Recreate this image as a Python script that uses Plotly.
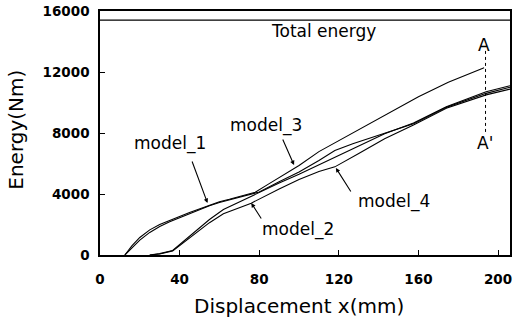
import plotly.graph_objects as go

# ---- data ----
total_energy = 15400
x_total = [0, 206]

x_model1 = [12.5, 16, 20, 25, 30, 35, 40, 45, 50, 55, 60, 65, 70, 75, 80, 90, 100, 110, 118, 127, 135, 143, 157.5, 174, 194, 206]
y_model1 = [0, 470, 980, 1480, 1870, 2180, 2450, 2720, 2980, 3230, 3440, 3610, 3790, 3960, 4130, 4800, 5450, 6200, 6850, 7300, 7650, 7980, 8600, 9680, 10600, 11000]

x_model2 = [25, 30, 36.5, 42, 47, 55, 62, 70, 76, 90, 100, 110, 118, 130, 143, 157.5, 174, 194, 206]
y_model2 = [0, 70, 270, 820, 1330, 2120, 2700, 3110, 3400, 4330, 4950, 5480, 5780, 6650, 7620, 8520, 9620, 10500, 10880]

x_model3 = [12.5, 16, 20, 25, 30, 35, 40, 45, 50, 55, 60, 65, 70, 75, 78, 84, 90, 100, 110, 120, 135, 148, 160, 175, 193]
y_model3 = [0, 600, 1150, 1650, 2000, 2280, 2530, 2780, 3020, 3300, 3490, 3650, 3820, 3990, 4120, 4600, 5080, 5870, 6780, 7500, 8600, 9500, 10380, 11330, 12280]

x_model4 = [25, 30, 36.5, 42, 47, 55, 62, 70, 78, 90, 100, 110, 118, 130, 143, 157.5, 174, 194, 206]
y_model4 = [0, 90, 300, 900, 1470, 2330, 2980, 3480, 4000, 4720, 5300, 5900, 6380, 7150, 7950, 8650, 9720, 10700, 11100]

x_section = [193.7, 193.7]
y_section = [8070, 13450]

x_ticks = [0, 40, 80, 120, 160, 200]
x_tick_text = ["0", "40", "80", "120", "160", "200"]
y_ticks = [0, 4000, 8000, 12000, 16000]
y_tick_text = ["0", "4000", "8000", "12000", "16000"]

# labels: (text, x, y)
labels = [("model_1", 35, 7280), ("model_3", 83.5, 8460), ("model_2", 99.5, 1640),
          ("model_4", 147.5, 3480), ("Total energy", 112.5, 14690),
          ("A", 193, 13770), ("A'", 193.6, 7350)]
# arrows: (tail x, tail y, tip x, tip y)
arrows = [(46, 6230, 54, 3410), (91.5, 7670, 97.5, 5900),
          (81.5, 2300, 76, 3410), (126.5, 4070, 118.5, 5710)]

line_style = dict(color="black", width=1.1)

fig = go.Figure()
fig.add_trace(go.Scatter(x=x_total, y=[total_energy, total_energy], mode="lines",
                         line=dict(color="black", width=1.3), showlegend=False))
for xs, ys in [(x_model1, y_model1), (x_model2, y_model2), (x_model3, y_model3), (x_model4, y_model4)]:
    fig.add_trace(go.Scatter(x=xs, y=ys, mode="lines", line=line_style, showlegend=False))
fig.add_trace(go.Scatter(x=x_section, y=y_section, mode="lines",
                         line=dict(color="black", width=1, dash="dot"), showlegend=False))

font_lbl = dict(family="DejaVu Sans", size=17, color="black")
for t, x, y in labels:
    fig.add_annotation(x=x, y=y, text=t, showarrow=False, font=font_lbl,
                       xanchor="center", yanchor="middle")
for tx, ty, hx, hy in arrows:
    fig.add_annotation(x=hx, y=hy, ax=tx, ay=ty, axref="x", ayref="y", text="",
                       showarrow=True, arrowhead=2, arrowsize=0.8, arrowwidth=1.1,
                       arrowcolor="black")

fig.add_annotation(x=0.485, y=-0.207, xref="paper", yref="paper",
                   text="Displacement x(mm)", showarrow=False,
                   font=dict(family="DejaVu Sans", size=20, color="black"),
                   xanchor="center", yanchor="middle")
fig.add_annotation(x=-0.204, y=0.515, xref="paper", yref="paper",
                   text="Energy(Nm)", showarrow=False, textangle=-90,
                   font=dict(family="DejaVu Sans", size=20, color="black"),
                   xanchor="center", yanchor="middle")

tick_font = dict(family="DejaVu Sans", size=13.5, color="black", weight="bold")
fig.update_xaxes(range=[0, 206], tickvals=x_ticks, ticktext=x_tick_text,
                 ticks="inside", ticklen=5,
                 tickcolor="black", showline=True, linecolor="black", linewidth=1.5,
                 mirror=True, showgrid=False, zeroline=False, tickfont=tick_font,
                 ticklabelstandoff=11, ticklabeloverflow="allow")
fig.update_yaxes(range=[0, 16000], tickvals=y_ticks, ticktext=y_tick_text,
                 ticks="inside", ticklen=5,
                 tickcolor="black", showline=True, linecolor="black", linewidth=1.5,
                 mirror=True, showgrid=False, zeroline=False, tickfont=tick_font,
                 ticklabelstandoff=6, ticklabeloverflow="allow")
fig.update_layout(width=515, height=324, margin=dict(l=100, r=3, t=11, b=69),
                  paper_bgcolor="white", plot_bgcolor="white", hovermode=False)
fig.write_html("out.html", config={"displayModeBar": False},
               post_script="document.body.style.margin='0px';document.body.style.overflow='hidden';")
